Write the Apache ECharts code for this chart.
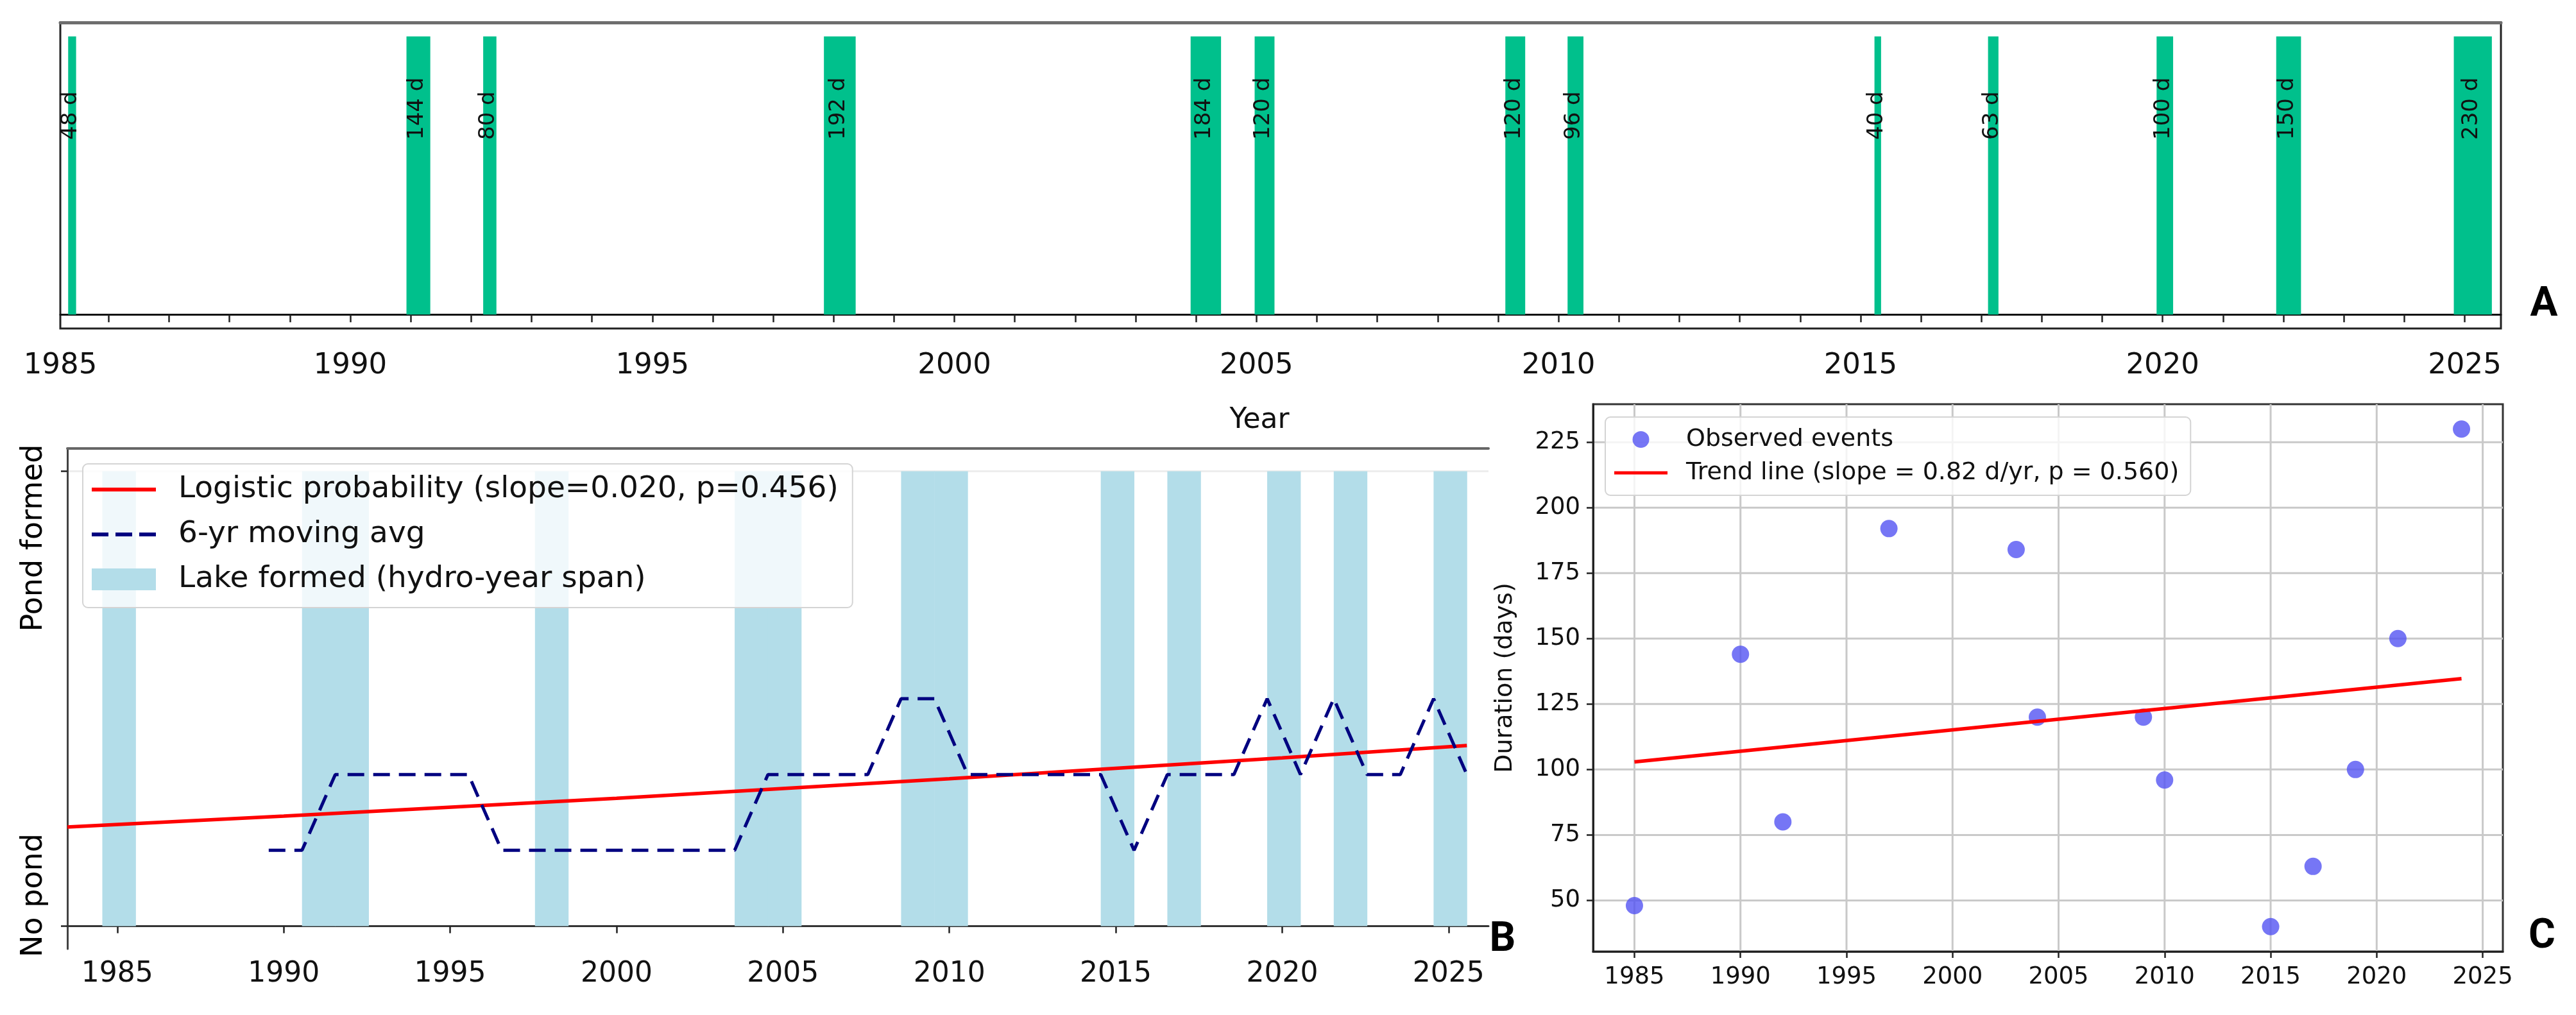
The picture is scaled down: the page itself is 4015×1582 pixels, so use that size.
<!DOCTYPE html>
<html>
<head>
<meta charset="utf-8">
<script src="https://cdn.jsdelivr.net/npm/echarts@6/dist/echarts.min.js"></script>
<style>
html,body{margin:0;padding:0;background:#ffffff;}
#c{width:4015px;height:1582px;}
</style>
</head>
<body>
<div id="c"></div>
<script>
// ================= DATA =================
// Panel A: ponding events (start as decimal year, duration in days)
const eventStart = [1985.33, 1990.93, 1992.20, 1997.84, 2003.91, 2004.97, 2009.12, 2010.15, 2015.23, 2017.11, 2019.90, 2021.88, 2024.82];
const eventDays  = [48, 144, 80, 192, 184, 120, 120, 96, 40, 63, 100, 150, 230];
const yearLabelsA = [1985, 1990, 1995, 2000, 2005, 2010, 2015, 2020, 2025];

// Panel B: hydro-years with a lake, 6-yr moving average, logistic fit
const formedYears = [1985, 1991, 1992, 1998, 2004, 2005, 2009, 2010, 2015, 2017, 2020, 2022, 2025];
const maYears  = [1990, 1991, 1992, 1993, 1994, 1995, 1996, 1997, 1998, 1999, 2000, 2001, 2002, 2003, 2004, 2005, 2006, 2007, 2008,
                  2009, 2010, 2011, 2012, 2013, 2014, 2015, 2016, 2017, 2018, 2019, 2020, 2021, 2022, 2023, 2024, 2025, 2026];
const maValues = [0.1667, 0.1667, 0.3333, 0.3333, 0.3333, 0.3333, 0.3333, 0.1667, 0.1667, 0.1667, 0.1667, 0.1667, 0.1667, 0.1667, 0.1667,
                  0.3333, 0.3333, 0.3333, 0.3333, 0.5, 0.5, 0.3333, 0.3333, 0.3333, 0.3333, 0.3333, 0.1667, 0.3333, 0.3333, 0.3333,
                  0.5, 0.3333, 0.5, 0.3333, 0.3333, 0.5, 0.3333];
const logisticX = [1983.5, 1990, 2000, 2010, 2020, 2025.55];
const logisticP = [0.218, 0.242, 0.281, 0.324, 0.370, 0.397];
const yearLabelsB = [1985, 1990, 1995, 2000, 2005, 2010, 2015, 2020, 2025];
const pondLabels = ['No pond', 'Pond formed'];

// Panel C: event duration by year, with linear trend
const obsYears = [1985, 1990, 1992, 1997, 2003, 2004, 2009, 2010, 2015, 2017, 2019, 2021, 2024];
const obsDays  = [48, 144, 80, 192, 184, 120, 120, 96, 40, 63, 100, 150, 230];
const trendX = [1985, 2024];
const trendY = [102.9, 134.7];
const yearLabelsC = [1985, 1990, 1995, 2000, 2005, 2010, 2015, 2020, 2025];
const dayLabelsC = [50, 75, 100, 125, 150, 175, 200, 225];

// ================= SETTINGS =================
const FONT = 'DejaVu Sans';
const A_MIN = 1985.2, A_MAX = 2025.6;
const B_MIN = 1983.5, B_MAX = 2026.2;
const C_XMIN = 1983.05, C_XMAX = 2025.95, C_YMIN = 30.5, C_YMAX = 239.5;
const LABEL_Y = 0.628;      // label anchor (axis units) in panel A
const SHIFT = -0.45;        // plotting offset of hydro-years in panel B

const minorYearsA = [];
for (let y = Math.ceil(A_MIN); y <= Math.floor(A_MAX); y++) minorYearsA.push(y);

const NAME_LOG = 'Logistic probability (slope=0.020, p=0.456)';
const NAME_MA = '6-yr moving avg';
const NAME_LAKE = 'Lake formed (hydro-year span)';
const NAME_OBS = 'Observed events';
const NAME_TREND = 'Trend line (slope = 0.82 d/yr, p = 0.560)';

// legend glyphs (solid and dashed line handles)
const ICON_SOLID = 'path://M0,0H100V6H0Z';
const ICON_DASH = 'path://M0,0H26V6H0Z M37,0H63V6H37Z M74,0H100V6H74Z';

const chart = echarts.init(document.getElementById('c'), null, {renderer: 'canvas', width: 4015, height: 1582});

const tickStyle = (len) => ({show: true, inside: false, length: len, lineStyle: {color: '#222', width: 2.5}});
const plain = v => String(Math.round(v));
const letter = (id, t, x, y) => ({id: id, type: 'text', x: x, y: y, z: 100,
  style: {text: t, font: 'bold 64px Roboto', fill: '#000', textAlign: 'center', textVerticalAlign: 'middle', align: 'center', verticalAlign: 'middle'}});

const option = {
  backgroundColor: '#ffffff',
  animation: false,
  grid: [
    {left: 94, top: 35, width: 3804, height: 477, show: true, borderColor: '#222', borderWidth: 3, backgroundColor: 'transparent'},
    {left: 105, top: 699, width: 2215, height: 780, show: false},
    {left: 2483, top: 630, width: 1418, height: 853, show: true, borderColor: '#333', borderWidth: 3, backgroundColor: 'transparent'}
  ],
  xAxis: [
    { // A bottom
      type: 'value', gridIndex: 0, min: A_MIN, max: A_MAX,
      axisLine: {show: true, lineStyle: {color: '#111', width: 3}},
      axisTick: Object.assign(tickStyle(12), {customValues: minorYearsA}),
      axisLabel: {customValues: yearLabelsA.map(v => Math.max(v, A_MIN)), formatter: plain,
                  fontFamily: FONT, fontSize: 45, color: '#111', margin: 36},
      splitLine: {show: false},
      name: 'Year', nameLocation: 'middle', nameGap: 122,
      nameTextStyle: {fontFamily: FONT, fontSize: 44, color: '#111', padding: [0, 66, 0, 0]}
    },
    { // A top spine
      type: 'value', gridIndex: 0, position: 'top', min: A_MIN, max: A_MAX,
      axisLine: {show: true, lineStyle: {color: '#6e6e6e', width: 5}},
      axisTick: {show: false}, axisLabel: {show: false}, splitLine: {show: false}
    },
    { // B bottom
      type: 'value', gridIndex: 1, min: B_MIN, max: B_MAX,
      axisLine: {show: true, lineStyle: {color: '#333', width: 3}},
      axisTick: Object.assign(tickStyle(11), {customValues: yearLabelsB}),
      axisLabel: {customValues: yearLabelsB, formatter: plain, fontFamily: FONT, fontSize: 44, color: '#111', margin: 18},
      splitLine: {show: false}
    },
    { // B top spine
      type: 'value', gridIndex: 1, position: 'top', min: B_MIN, max: B_MAX,
      axisLine: {show: true, lineStyle: {color: '#666', width: 4}},
      axisTick: {show: false}, axisLabel: {show: false}, splitLine: {show: false}
    },
    { // C bottom
      type: 'value', gridIndex: 2, min: C_XMIN, max: C_XMAX,
      axisLine: {show: true, lineStyle: {color: '#222', width: 3}},
      axisTick: Object.assign(tickStyle(10), {customValues: yearLabelsC}),
      axisLabel: {customValues: yearLabelsC, formatter: plain, fontFamily: FONT, fontSize: 37, color: '#111', margin: 22},
      splitLine: {show: false}
    }
  ],
  yAxis: [
    { // A
      type: 'value', gridIndex: 0, min: -0.05, max: 1.05, show: false
    },
    { // B (labels drawn below as rotated text anchored to the ticks)
      type: 'value', gridIndex: 1, min: -0.05, max: 1.05,
      axisLine: {show: true, lineStyle: {color: '#444', width: 3}},
      axisTick: Object.assign(tickStyle(10), {customValues: [0, 1]}),
      axisLabel: {show: false},
      splitLine: {show: false}
    },
    { // C
      type: 'value', gridIndex: 2, min: C_YMIN, max: C_YMAX,
      axisLine: {show: true, lineStyle: {color: '#222', width: 3}},
      axisTick: Object.assign(tickStyle(10), {customValues: dayLabelsC}),
      axisLabel: {customValues: dayLabelsC, formatter: plain, fontFamily: FONT, fontSize: 37, color: '#111', margin: 20},
      splitLine: {show: false},
      name: 'Duration (days)', nameLocation: 'middle', nameGap: 118, nameRotate: 90,
      nameTextStyle: {fontFamily: FONT, fontSize: 38, color: '#111'}
    }
  ],
  legend: [
    {
      data: [{name: NAME_LOG, icon: ICON_SOLID}, {name: NAME_MA, icon: ICON_DASH}, {name: NAME_LAKE, icon: 'rect'}],
      orient: 'vertical', left: 129, top: 723,
      itemWidth: 100, itemHeight: 34, itemGap: 18,
      selectedMode: false,
      backgroundColor: 'rgba(255,255,255,0.8)', borderColor: '#d4d4d4', borderWidth: 2, borderRadius: 8,
      padding: [14, 22, 18, 14],
      textStyle: {fontFamily: FONT, fontSize: 47, color: '#111', lineHeight: 52, padding: [0, 0, 0, 30]}
    },
    {
      data: [{name: NAME_OBS, icon: 'circle'}, {name: NAME_TREND, icon: ICON_SOLID}],
      orient: 'vertical', left: 2502, top: 650,
      itemWidth: 83, itemHeight: 26, itemGap: 10,
      selectedMode: false,
      backgroundColor: 'rgba(255,255,255,0.8)', borderColor: '#d4d4d4', borderWidth: 2, borderRadius: 8,
      padding: [14, 18, 14, 14],
      textStyle: {fontFamily: FONT, fontSize: 38, color: '#111', lineHeight: 42, padding: [0, 0, 0, 24]}
    }
  ],
  graphic: [
    letter('lA', 'A', 3965, 476),
    letter('lB', 'B', 2342, 1466),
    letter('lC', 'C', 3962, 1461)
  ],
  series: [
    // ---------- Panel A ----------
    {
      type: 'custom', name: 'events', xAxisIndex: 0, yAxisIndex: 0, z: 2,
      data: eventStart.map((s, i) => [s, eventDays[i]]),
      renderItem: (params, api) => {
        const s = api.value(0), d = api.value(1);
        const e = s + d / 365.25;
        const p0 = api.coord([s, 0]), p1 = api.coord([e, 1]);
        const lab = api.coord([(s + e) / 2, LABEL_Y]);
        return {
          type: 'group',
          children: [
            {type: 'rect', shape: {x: p0[0], y: p1[1], width: Math.max(p1[0] - p0[0], 3), height: p0[1] - p1[1]},
             style: {fill: '#00C08C'}},
            {type: 'text', x: lab[0] - 2, y: lab[1], rotation: Math.PI / 2,
             style: {text: d + ' d', font: '34px "DejaVu Sans"', fill: '#111',
                     textAlign: 'left', textVerticalAlign: 'middle', align: 'left', verticalAlign: 'middle'}}
          ]
        };
      }
    },
    // ---------- Panel B ----------
    {
      type: 'custom', name: 'B-grid', xAxisIndex: 2, yAxisIndex: 1, z: 0, silent: true,
      data: [0, 1].map(v => [v]),
      renderItem: (params, api) => {
        const v = api.value(0);
        const a = api.coord([B_MIN, v]), b = api.coord([B_MAX, v]);
        return {type: 'line', shape: {x1: a[0], y1: a[1], x2: b[0], y2: b[1]}, style: {stroke: '#ededed', lineWidth: 3}};
      }
    },
    {
      type: 'custom', name: NAME_LAKE, xAxisIndex: 2, yAxisIndex: 1, z: 1,
      itemStyle: {color: '#B3DDE9'},
      data: formedYears.map(y => [y]),
      renderItem: (params, api) => {
        const y = api.value(0);
        const p0 = api.coord([y + SHIFT, 0]), p1 = api.coord([y + SHIFT + 1, 1]);
        return {type: 'rect', shape: {x: p0[0], y: p1[1], width: p1[0] - p0[0] + 0.5, height: p0[1] - p1[1]},
                style: {fill: '#B3DDE9'}};
      }
    },
    {
      type: 'line', name: NAME_LOG, xAxisIndex: 2, yAxisIndex: 1, z: 3,
      data: logisticX.map((x, i) => [x, logisticP[i]]),
      symbol: 'none', smooth: false,
      itemStyle: {color: '#ff0000'},
      lineStyle: {color: '#ff0000', width: 5.5}
    },
    {
      type: 'line', name: NAME_MA, xAxisIndex: 2, yAxisIndex: 1, z: 4,
      data: maYears.map((y, i) => [y + SHIFT, maValues[i]]),
      symbol: 'none',
      itemStyle: {color: '#000080'},
      lineStyle: {color: '#000080', width: 5, type: [26, 14]}
    },
    // ---------- Panel C ----------
    {
      type: 'custom', name: 'C-vgrid', xAxisIndex: 4, yAxisIndex: 2, z: 0, silent: true,
      data: yearLabelsC.map(v => [v]),
      renderItem: (params, api) => {
        const v = api.value(0);
        const a = api.coord([v, C_YMIN]), b = api.coord([v, C_YMAX]);
        return {type: 'line', shape: {x1: a[0], y1: a[1], x2: b[0], y2: b[1]}, style: {stroke: '#c9c9c9', lineWidth: 3}};
      }
    },
    {
      type: 'custom', name: 'C-hgrid', xAxisIndex: 4, yAxisIndex: 2, z: 0, silent: true,
      data: dayLabelsC.map(v => [C_XMIN, v]),
      renderItem: (params, api) => {
        const v = api.value(1);
        const a = api.coord([C_XMIN, v]), b = api.coord([C_XMAX, v]);
        return {type: 'line', shape: {x1: a[0], y1: a[1], x2: b[0], y2: b[1]}, style: {stroke: '#c9c9c9', lineWidth: 3}};
      }
    },
    {
      type: 'scatter', name: NAME_OBS, xAxisIndex: 4, yAxisIndex: 2, z: 3,
      data: obsYears.map((y, i) => [y, obsDays[i]]),
      symbol: 'circle', symbolSize: 27,
      itemStyle: {color: '#5454f2'}
    },
    {
      type: 'line', name: NAME_TREND, xAxisIndex: 4, yAxisIndex: 2, z: 4,
      data: trendX.map((x, i) => [x, trendY[i]]),
      symbol: 'none',
      itemStyle: {color: '#ff0000'},
      lineStyle: {color: '#ff0000', width: 5.5}
    }
  ]
};

chart.setOption(option);

// Panel B y-tick labels: rotated text placed next to the "No pond" (0) and "Pond formed" (1) ticks
const LABEL_DX = -52;               // distance left of the axis line
const LABEL_DY = [-48, 104];        // vertical offset of each label's centre from its tick
const tickPix = [0, 1].map(v => chart.convertToPixel({gridIndex: 1}, [B_MIN, v]));
chart.setOption({
  graphic: [
    letter('lA', 'A', 3965, 476),
    letter('lB', 'B', 2342, 1466),
    letter('lC', 'C', 3962, 1461)
  ].concat([0, 1].map(i => ({
    id: 'pond' + i, type: 'text', x: tickPix[i][0] + LABEL_DX, y: tickPix[i][1] + LABEL_DY[i], rotation: Math.PI / 2, z: 50,
    style: {text: pondLabels[i], font: '46px "DejaVu Sans"', fill: '#000',
            textAlign: 'center', textVerticalAlign: 'middle', align: 'center', verticalAlign: 'middle'}
  })))
});
</script>
</body>
</html>
